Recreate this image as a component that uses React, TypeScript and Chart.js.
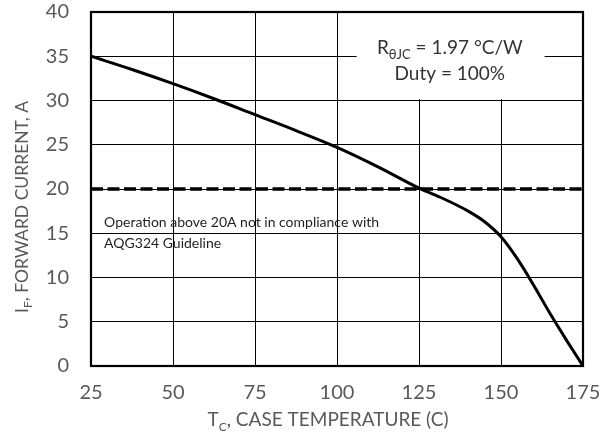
import React, { useEffect, useRef } from "react";
import { Chart, registerables } from "chart.js";

Chart.register(...registerables);

const caseTemp = [25, 37.5, 50, 62.5, 75, 87.5, 100, 112.5, 125, 132.5, 140, 145, 150, 155, 160, 165, 170, 175];
const forwardCurrent = [35, 33.5, 31.9, 30.2, 28.4, 26.6, 24.7, 22.5, 20.1, 18.9, 17.5, 16.3, 14.6, 12.1, 9.1, 5.9, 2.9, 0];
const limitTemp = [25, 175];
const limitCurrent = [20, 20];
const xTicks = [25, 50, 75, 100, 125, 150, 175];
const yTicks = [0, 5, 10, 15, 20, 25, 30, 35, 40];

const FONT = "Lato, 'Open Sans', sans-serif";
const GRAY = "#595959";

function drawSubText(ctx: CanvasRenderingContext2D, main: string, sub: string, rest: string, size: number, subSize: number, x: number, y: number) {
  ctx.font = `${size}px ${FONT}`;
  const w1 = ctx.measureText(main).width;
  const w3 = ctx.measureText(rest).width;
  ctx.font = `${subSize}px ${FONT}`;
  const w2 = ctx.measureText(sub).width;
  const total = w1 + w2 + w3;
  let cx = x - total / 2;
  ctx.textAlign = "left";
  ctx.textBaseline = "alphabetic";
  ctx.font = `${size}px ${FONT}`;
  ctx.fillText(main, cx, y);
  cx += w1;
  ctx.font = `${subSize}px ${FONT}`;
  ctx.fillText(sub, cx, y + size * 0.25);
  cx += w2;
  ctx.font = `${size}px ${FONT}`;
  ctx.fillText(rest, cx, y);
}

const overlayPlugin = {
  id: "overlay",
  beforeDatasetsDraw(chart: any) {
    const { ctx, scales } = chart;
    const x = scales.x, y = scales.y;
    const x0 = x.getPixelForValue(106);
    const x1 = x.getPixelForValue(163.3);
    const y0 = chart.chartArea.top + 1;
    const y1 = y.getPixelForValue(30.15);
    ctx.save();
    ctx.fillStyle = "#ffffff";
    ctx.fillRect(x0, y0, x1 - x0, y1 - y0);
    ctx.restore();
  },
  afterDatasetsDraw(chart: any) {
    const { ctx, chartArea, scales } = chart;
    const x = scales.x, y = scales.y;
    ctx.save();
    // plot border
    ctx.strokeStyle = "#000";
    ctx.lineWidth = 2.2;
    ctx.strokeRect(chartArea.left, chartArea.top, chartArea.right - chartArea.left, chartArea.bottom - chartArea.top);

    // box text
    ctx.fillStyle = "#333333";
    const cx = x.getPixelForValue(134.4);
    drawSubText(ctx, "R", "θJC", " = 1.97 °C/W", 19, 13, cx, y.getPixelForValue(35.25));
    ctx.font = `19px ${FONT}`;
    ctx.textAlign = "center";
    ctx.textBaseline = "alphabetic";
    ctx.fillText("Duty = 100%", cx, y.getPixelForValue(32.3));

    // compliance note
    ctx.fillStyle = "#1f1f1f";
    ctx.font = `14px ${FONT}`;
    ctx.textAlign = "left";
    ctx.textBaseline = "middle";
    const lx = x.getPixelForValue(29);
    ctx.fillText("Operation above 20A not in compliance with", lx, y.getPixelForValue(16.2));
    ctx.fillText("AQG324 Guideline", lx, y.getPixelForValue(13.8));
    ctx.restore();
  },
  afterDraw(chart: any) {
    const { ctx, chartArea } = chart;
    ctx.save();
    ctx.fillStyle = GRAY;
    // x title
    const xc = (chartArea.left + chartArea.right) / 2 - 9;
    drawSubText(ctx, "T", "C", ", CASE TEMPERATURE (C)", 19, 12, xc, 426);
    // y title
    ctx.translate(28, (chartArea.top + chartArea.bottom) / 2 + 18);
    ctx.rotate(-Math.PI / 2);
    drawSubText(ctx, "I", "F", ", FORWARD CURRENT, A", 17.5, 12, 0, 0);
    ctx.restore();
  },
};

export default function App() {
  const ref = useRef<HTMLCanvasElement | null>(null);
  useEffect(() => {
    document.body.style.margin = "0";
    const canvas = ref.current;
    if (!canvas) return;
    const chart = new Chart(canvas, {
      type: "line",
      data: {
        datasets: [
          {
            label: "IF",
            data: caseTemp.map((t, i) => ({ x: t, y: forwardCurrent[i] })),
            borderColor: "#000",
            borderWidth: 3,
            pointRadius: 0,
            cubicInterpolationMode: "monotone",
            fill: false,
          },
          {
            label: "limit",
            data: limitTemp.map((t, i) => ({ x: t, y: limitCurrent[i] })),
            borderColor: "#000",
            borderWidth: 3.5,
            borderDash: [12, 4.5],
            pointRadius: 0,
            fill: false,
          },
        ],
      },
      options: {
        animation: false,
        responsive: false,
        maintainAspectRatio: false,
        layout: { padding: { left: 0, right: 32, top: 12, bottom: 0 } },
        plugins: { legend: { display: false }, tooltip: { enabled: false } },
        scales: {
          x: {
            type: "linear",
            min: 25,
            max: 175,
            afterBuildTicks: (s: any) => { s.ticks = xTicks.map((v) => ({ value: v })); },
            afterFit: (s: any) => { s.height = 68; s.paddingLeft = 0; s.paddingRight = 0; s.paddingTop = 0; s.paddingBottom = 0; },
            grid: { color: "#000", lineWidth: 1, drawTicks: false },
            border: { display: false },
            ticks: { color: GRAY, font: { family: FONT, size: 20 }, padding: 15, maxRotation: 0, autoSkip: false },
          },
          y: {
            type: "linear",
            min: 0,
            max: 40,
            afterBuildTicks: (s: any) => { s.ticks = yTicks.map((v) => ({ value: v })); },
            afterFit: (s: any) => { s.width = 91; s.paddingLeft = 0; s.paddingRight = 0; s.paddingTop = 0; s.paddingBottom = 0; },
            grid: { color: "#000", lineWidth: 1, drawTicks: false },
            border: { display: false },
            ticks: { color: GRAY, font: { family: FONT, size: 20 }, padding: 22, autoSkip: false },
          },
        },
      },
      plugins: [overlayPlugin],
    } as any);
    return () => chart.destroy();
  }, []);
  return (
    <div style={{ position: "absolute", left: 0, top: 0, width: 615, height: 434 }}>
      <canvas ref={ref} width={615} height={434} style={{ width: 615, height: 434, display: "block" }} />
    </div>
  );
}
